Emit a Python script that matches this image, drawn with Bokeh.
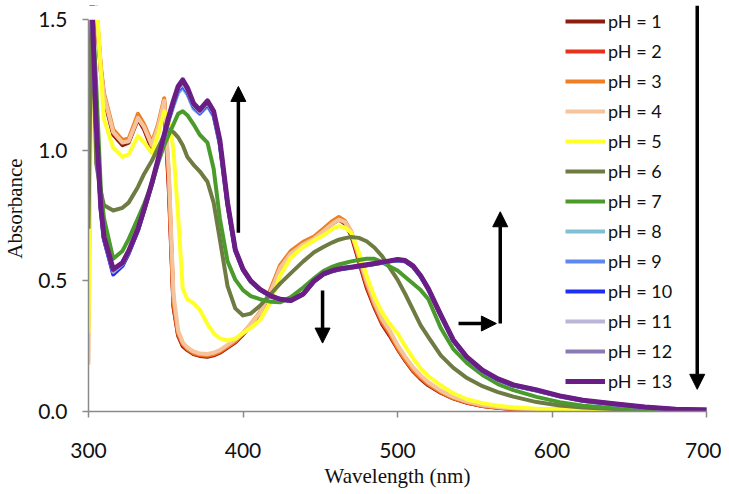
from bokeh.plotting import figure
from bokeh.models import (Arrow, NormalHead, FixedTicker, NumeralTickFormatter,
                          Range1d, Legend, LegendItem, BoxAnnotation)
from bokeh.embed import file_html
from bokeh.resources import INLINE

# ---------------- data ----------------
wavelength = [300, 302, 305, 308, 310, 316, 322, 326, 332, 336, 341, 345, 349, 352, 355,
              358, 361, 364, 368, 372, 377, 381, 385, 390, 395, 400, 405, 411, 418, 424,
              431, 439, 446, 452, 458, 462, 466, 470, 475, 480, 485, 490, 495, 500, 505,
              510, 515, 520, 528, 536, 545, 555, 565, 575, 590, 605, 620, 640, 660, 680, 700]

ph_labels = ["pH = 1", "pH = 2", "pH = 3", "pH = 4", "pH = 5", "pH = 6", "pH = 7",
             "pH = 8", "pH = 9", "pH = 10", "pH = 11", "pH = 12", "pH = 13"]

ph1 = [1.6, 1.6, 1.52, 1.30, 1.20, 1.06, 1.02, 1.03, 1.12, 1.08, 1.005, 1.08, 1.18, 0.85, 0.40,
       0.29, 0.25, 0.235, 0.22, 0.213, 0.21, 0.215, 0.225, 0.245, 0.265, 0.295, 0.33, 0.375, 0.46, 0.55,
       0.605, 0.64, 0.66, 0.69, 0.72, 0.735, 0.72, 0.675, 0.575, 0.475, 0.40, 0.335, 0.29, 0.24, 0.195,
       0.155, 0.125, 0.10, 0.072, 0.05, 0.033, 0.021, 0.014, 0.01, 0.008, 0.007, 0.007, 0.007, 0.007, 0.008, 0.009]
ph2 = [1.6, 1.6, 1.54, 1.31, 1.21, 1.07, 1.03, 1.035, 1.13, 1.09, 1.015, 1.09, 1.19, 0.87, 0.41,
       0.295, 0.255, 0.238, 0.222, 0.215, 0.212, 0.218, 0.228, 0.248, 0.268, 0.298, 0.332, 0.378, 0.465, 0.555,
       0.61, 0.645, 0.665, 0.695, 0.725, 0.74, 0.725, 0.683, 0.582, 0.482, 0.405, 0.34, 0.295, 0.242, 0.198,
       0.158, 0.128, 0.103, 0.074, 0.051, 0.034, 0.021, 0.014, 0.01, 0.008, 0.008, 0.008, 0.008, 0.008, 0.009, 0.01]
ph3 = [1.6, 1.6, 1.55, 1.32, 1.22, 1.08, 1.04, 1.045, 1.14, 1.10, 1.03, 1.10, 1.20, 0.90, 0.42,
       0.30, 0.26, 0.24, 0.225, 0.218, 0.215, 0.22, 0.23, 0.25, 0.27, 0.30, 0.335, 0.38, 0.47, 0.56,
       0.615, 0.65, 0.67, 0.70, 0.73, 0.745, 0.73, 0.69, 0.59, 0.49, 0.41, 0.345, 0.30, 0.245, 0.20,
       0.16, 0.13, 0.105, 0.075, 0.052, 0.035, 0.022, 0.015, 0.011, 0.009, 0.008, 0.008, 0.008, 0.008, 0.009, 0.01]
ph4 = [0.18, 1.6, 1.53, 1.31, 1.21, 1.07, 1.03, 1.035, 1.125, 1.09, 1.02, 1.09, 1.19, 0.92, 0.45,
       0.31, 0.265, 0.245, 0.23, 0.222, 0.22, 0.225, 0.235, 0.255, 0.275, 0.30, 0.335, 0.378, 0.46, 0.55,
       0.605, 0.64, 0.662, 0.69, 0.72, 0.735, 0.725, 0.69, 0.595, 0.50, 0.42, 0.355, 0.31, 0.255, 0.21,
       0.17, 0.138, 0.112, 0.08, 0.056, 0.038, 0.025, 0.017, 0.012, 0.009, 0.008, 0.008, 0.008, 0.008, 0.008, 0.008]
ph5 = [0.30, 1.6, 1.6, 1.30, 1.12, 1.01, 0.975, 0.985, 1.055, 1.03, 0.99, 1.06, 1.15, 1.12, 1.0,
       0.75, 0.47, 0.43, 0.415, 0.39, 0.335, 0.30, 0.28, 0.272, 0.28, 0.30, 0.32, 0.35, 0.42, 0.52,
       0.59, 0.63, 0.655, 0.675, 0.70, 0.71, 0.705, 0.685, 0.61, 0.52, 0.44, 0.38, 0.335, 0.30, 0.25,
       0.205, 0.165, 0.135, 0.10, 0.07, 0.047, 0.032, 0.022, 0.016, 0.011, 0.009, 0.008, 0.008, 0.008, 0.008, 0.008]
ph6 = [0.70, 1.6, 0.95, 0.84, 0.79, 0.77, 0.78, 0.80, 0.86, 0.91, 0.96, 1.01, 1.06, 1.08, 1.07,
       1.05, 1.02, 0.975, 0.945, 0.92, 0.88, 0.80, 0.66, 0.48, 0.395, 0.368, 0.375, 0.405, 0.45, 0.49,
       0.53, 0.575, 0.61, 0.63, 0.648, 0.658, 0.664, 0.668, 0.665, 0.652, 0.628, 0.595, 0.55, 0.505, 0.45,
       0.39, 0.33, 0.285, 0.215, 0.168, 0.128, 0.097, 0.074, 0.057, 0.036, 0.023, 0.015, 0.01, 0.008, 0.007, 0.007]
ph7 = [1.6, 1.6, 1.25, 0.85, 0.74, 0.585, 0.615, 0.66, 0.74, 0.795, 0.87, 0.95, 1.02, 1.06, 1.10,
       1.14, 1.15, 1.135, 1.10, 1.06, 1.03, 0.93, 0.74, 0.575, 0.505, 0.465, 0.442, 0.43, 0.42, 0.418,
       0.438, 0.475, 0.51, 0.538, 0.555, 0.563, 0.569, 0.575, 0.58, 0.585, 0.585, 0.572, 0.555, 0.54, 0.515,
       0.49, 0.465, 0.43, 0.32, 0.24, 0.185, 0.14, 0.105, 0.082, 0.056, 0.036, 0.022, 0.013, 0.009, 0.007, 0.006]
ph8 = [1.6, 1.6, 1.08, 0.77, 0.66, 0.54, 0.565, 0.61, 0.695, 0.77, 0.87, 0.955, 1.05, 1.115, 1.17,
       1.22, 1.24, 1.215, 1.16, 1.14, 1.17, 1.13, 1.02, 0.79, 0.615, 0.54, 0.497, 0.465, 0.44, 0.428,
       0.423, 0.448, 0.497, 0.524, 0.537, 0.543, 0.547, 0.55, 0.554, 0.559, 0.564, 0.569, 0.574, 0.578, 0.574,
       0.553, 0.515, 0.465, 0.365, 0.27, 0.204, 0.154, 0.121, 0.098, 0.079, 0.057, 0.04, 0.027, 0.015, 0.008, 0.005]
ph9 = [1.6, 1.6, 1.09, 0.775, 0.66, 0.53, 0.56, 0.607, 0.693, 0.77, 0.87, 0.958, 1.052, 1.12, 1.178,
       1.228, 1.245, 1.22, 1.165, 1.142, 1.175, 1.135, 1.025, 0.79, 0.617, 0.542, 0.498, 0.466, 0.441, 0.429,
       0.424, 0.449, 0.498, 0.525, 0.538, 0.544, 0.548, 0.551, 0.555, 0.56, 0.565, 0.57, 0.575, 0.579, 0.575,
       0.555, 0.517, 0.467, 0.367, 0.272, 0.205, 0.155, 0.122, 0.099, 0.08, 0.058, 0.041, 0.028, 0.016, 0.008, 0.005]
ph10 = [1.6, 1.6, 1.09, 0.775, 0.66, 0.525, 0.558, 0.605, 0.693, 0.772, 0.872, 0.96, 1.055, 1.122, 1.18,
        1.232, 1.25, 1.225, 1.17, 1.145, 1.178, 1.138, 1.03, 0.795, 0.618, 0.543, 0.499, 0.467, 0.442, 0.43,
        0.425, 0.45, 0.499, 0.526, 0.539, 0.545, 0.549, 0.552, 0.556, 0.561, 0.566, 0.571, 0.576, 0.58, 0.576,
        0.556, 0.518, 0.468, 0.368, 0.273, 0.206, 0.156, 0.123, 0.1, 0.081, 0.059, 0.042, 0.029, 0.016, 0.009, 0.005]
ph11 = [1.6, 1.6, 1.09, 0.778, 0.665, 0.535, 0.565, 0.61, 0.697, 0.773, 0.873, 0.962, 1.057, 1.125, 1.184,
        1.236, 1.255, 1.23, 1.173, 1.148, 1.182, 1.142, 1.033, 0.797, 0.619, 0.544, 0.5, 0.468, 0.442, 0.43,
        0.425, 0.45, 0.5, 0.527, 0.54, 0.546, 0.55, 0.553, 0.557, 0.562, 0.567, 0.572, 0.577, 0.581, 0.577,
        0.557, 0.519, 0.469, 0.369, 0.274, 0.207, 0.157, 0.124, 0.101, 0.082, 0.059, 0.042, 0.029, 0.017, 0.009, 0.006]
ph12 = [1.6, 1.6, 1.1, 0.78, 0.668, 0.54, 0.568, 0.613, 0.698, 0.774, 0.874, 0.964, 1.058, 1.128, 1.187,
        1.24, 1.262, 1.235, 1.177, 1.152, 1.186, 1.146, 1.036, 0.798, 0.62, 0.545, 0.5, 0.468, 0.443, 0.43,
        0.425, 0.45, 0.5, 0.527, 0.54, 0.546, 0.55, 0.553, 0.557, 0.562, 0.567, 0.572, 0.577, 0.582, 0.578,
        0.558, 0.52, 0.47, 0.37, 0.275, 0.208, 0.158, 0.125, 0.102, 0.083, 0.06, 0.043, 0.03, 0.017, 0.009, 0.006]
ph13 = [1.6, 1.6, 1.10, 0.78, 0.67, 0.545, 0.57, 0.615, 0.70, 0.775, 0.875, 0.965, 1.06, 1.13, 1.19,
        1.245, 1.27, 1.24, 1.18, 1.155, 1.19, 1.15, 1.04, 0.80, 0.62, 0.545, 0.50, 0.468, 0.443, 0.43,
        0.425, 0.45, 0.50, 0.527, 0.54, 0.546, 0.55, 0.553, 0.557, 0.562, 0.567, 0.572, 0.577, 0.582, 0.578,
        0.558, 0.52, 0.47, 0.37, 0.275, 0.208, 0.158, 0.125, 0.102, 0.083, 0.06, 0.043, 0.03, 0.017, 0.009, 0.006]

series = [ph1, ph2, ph3, ph4, ph5, ph6, ph7, ph8, ph9, ph10, ph11, ph12, ph13]

colors = ["#8B1E0E", "#E8311A", "#EE7F24", "#F5C49C", "#FFFF2A", "#6E7B42", "#4A9B2C",
          "#80C0D4", "#5C88F0", "#1E30F5", "#BBB5D8", "#8C7AB2", "#6A1D85"]

x_ticks = [300, 400, 500, 600, 700]
y_ticks = [0.0, 0.5, 1.0, 1.5]
y_axis_max = 1.5

# arrows: (x_start, y_start, x_end, y_end) in data units
arrows = [
    (397, 0.685, 397, 1.245),
    (451.5, 0.463, 451.5, 0.262),
    (539.5, 0.337, 564, 0.337),
    (566.5, 0.337, 566.5, 0.765),
    (694, 1.555, 694, 0.085),
]

# ---------------- figure ----------------
p = figure(width=721, height=494, output_backend="svg", toolbar_location=None,
           x_range=Range1d(300, 700), y_range=Range1d(0, 1.555),
           min_border_left=88, min_border_right=15, min_border_top=5, min_border_bottom=83)
p.outline_line_color = None
p.grid.grid_line_color = None
p.background_fill_color = "white"

items = []
for lab, ys, col in zip(ph_labels, series, colors):
    lw = 5 if lab == "pH = 13" else 4
    r = p.line(wavelength, ys, line_color=col, line_width=lw, line_join="round")
    items.append(LegendItem(label=lab, renderers=[r]))

# white mask above the top of the value axis (curves are off-scale there)
p.add_layout(BoxAnnotation(bottom=y_axis_max, fill_color="white", fill_alpha=1.0,
                           line_color=None))

legend = Legend(items=items, location=(477, 19), padding=0, margin=0, spacing=8,
                glyph_width=40, glyph_height=20, label_height=20, label_standoff=3,
                label_text_font="Lato", label_text_font_size="18px", label_text_color="#111111",
                border_line_color=None, background_fill_alpha=0)
p.add_layout(legend, "center")

for xs, ys, xe, ye in arrows:
    p.add_layout(Arrow(end=NormalHead(size=15, fill_color="black", line_color="black"),
                       x_start=xs, y_start=ys, x_end=xe, y_end=ye,
                       line_color="black", line_width=3.5))

for ax in (p.xaxis[0], p.yaxis[0]):
    ax.axis_line_color = "#8a8a8a"
    ax.axis_line_width = 1.5
    ax.major_tick_line_color = "#8a8a8a"
    ax.major_tick_line_width = 1.5
    ax.major_tick_in = 0
    ax.major_tick_out = 6
    ax.minor_tick_line_color = None
    ax.major_label_text_font = "Lato"
    ax.major_label_text_font_size = "21px"
    ax.major_label_text_color = "#111111"
    ax.axis_label_text_font = "Liberation Serif"
    ax.axis_label_text_font_size = "21px"
    ax.axis_label_text_font_style = "normal"
    ax.axis_label_text_color = "#111111"

p.xaxis.ticker = FixedTicker(ticks=x_ticks)
p.yaxis.ticker = FixedTicker(ticks=y_ticks)
p.yaxis.bounds = (0, y_axis_max)
p.yaxis.formatter = NumeralTickFormatter(format="0.0")
p.xaxis.axis_label = "Wavelength (nm)"
p.yaxis.axis_label = "Absorbance"
p.xaxis.major_label_standoff = 25
p.yaxis.major_label_standoff = 15
p.xaxis.axis_label_standoff = 3
p.yaxis.axis_label_standoff = 8

open("out.html", "w").write(file_html(p, INLINE))
